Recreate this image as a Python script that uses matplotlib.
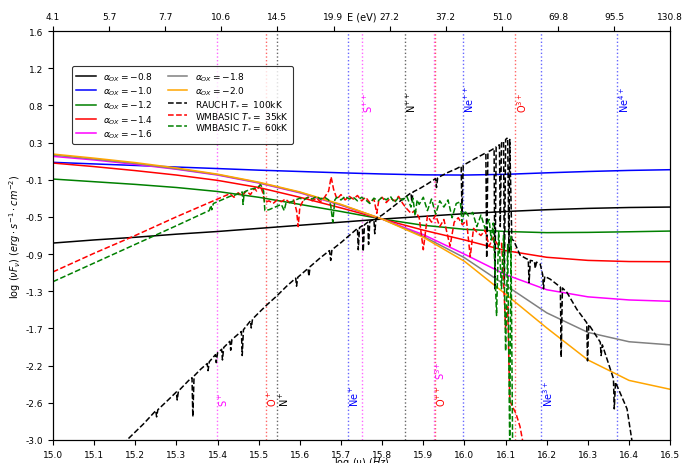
import numpy as np
import matplotlib
matplotlib.use('Agg')
import matplotlib.pyplot as plt

# x grid of the alpha_ox continua (log nu)
alpha_lognu = [15.0, 15.1, 15.2, 15.3, 15.4, 15.5, 15.6, 15.7, 15.8, 15.9,
               16.0, 16.1, 16.2, 16.3, 16.4, 16.5]
alpha_m08 = [-0.785, -0.75, -0.72, -0.685, -0.655, -0.62, -0.585, -0.55, -0.515, -0.485,
             -0.455, -0.43, -0.41, -0.395, -0.385, -0.38]
alpha_m10 = [0.123, 0.105, 0.088, 0.07, 0.053, 0.035, 0.02, 0.005, -0.008, -0.018,
             -0.02, -0.012, 0.005, 0.02, 0.032, 0.04]
alpha_m12 = [-0.065, -0.095, -0.125, -0.16, -0.205, -0.27, -0.35, -0.43, -0.515, -0.585,
             -0.63, -0.655, -0.668, -0.665, -0.658, -0.65]
alpha_m14 = [0.115, 0.075, 0.03, -0.02, -0.08, -0.16, -0.27, -0.39, -0.515, -0.64,
             -0.75, -0.87, -0.945, -0.98, -0.993, -0.995]
alpha_m16 = [0.19, 0.15, 0.10, 0.045, -0.02, -0.11, -0.22, -0.36, -0.515, -0.69,
             -0.91, -1.14, -1.31, -1.39, -1.425, -1.44]
alpha_m18 = [0.205, 0.16, 0.11, 0.05, -0.015, -0.105, -0.215, -0.355, -0.515, -0.71,
             -0.95, -1.26, -1.57, -1.79, -1.895, -1.93]
alpha_m20 = [0.216, 0.17, 0.12, 0.06, -0.01, -0.10, -0.21, -0.35, -0.515, -0.72,
             -0.99, -1.36, -1.74, -2.10, -2.33, -2.43]
alpha_values = ['-0.8', '-1.0', '-1.2', '-1.4', '-1.6', '-1.8', '-2.0']
alpha_colors = ['black', 'blue', 'green', 'red', 'magenta', 'gray', 'orange']

# RAUCH 100kK
rauch_lognu = [15.13, 15.18, 15.22, 15.25, 15.252, 15.255, 15.28, 15.30, 15.302, 15.305,
               15.33, 15.338, 15.340, 15.343, 15.36, 15.375, 15.377, 15.380, 15.395, 15.397,
               15.400, 15.410, 15.412, 15.415, 15.43, 15.432, 15.435, 15.45, 15.458, 15.460,
               15.463, 15.48, 15.482, 15.485, 15.50, 15.52, 15.544, 15.568, 15.59, 15.592,
               15.595, 15.62, 15.622, 15.625, 15.65, 15.672, 15.675, 15.678, 15.70, 15.72,
               15.74, 15.742, 15.745, 15.752, 15.754, 15.757, 15.765, 15.767, 15.770, 15.78,
               15.782, 15.785, 15.80, 15.82, 15.85, 15.87, 15.872, 15.875, 15.892, 15.91,
               15.93, 15.932, 15.935, 15.96, 15.98, 15.992, 15.994, 15.997, 16.02, 16.04,
               16.052, 16.054, 16.057, 16.065, 16.072, 16.074, 16.077, 16.085, 16.087, 16.090,
               16.095, 16.097, 16.100, 16.105, 16.108, 16.110, 16.115, 16.12, 16.135, 16.15,
               16.155, 16.157, 16.160, 16.17, 16.172, 16.175, 16.184, 16.19, 16.192, 16.195,
               16.208, 16.233, 16.235, 16.238, 16.249, 16.273, 16.297, 16.299, 16.302, 16.33,
               16.332, 16.335, 16.362, 16.364, 16.367, 16.395, 16.41]
rauch_flux = [-3.25, -3.00, -2.82, -2.67, -2.74, -2.66, -2.55, -2.46, -2.55, -2.45,
              -2.33, -2.30, -2.74, -2.28, -2.20, -2.14, -2.22, -2.12, -2.04, -2.13,
              -2.02, -1.98, -2.10, -1.96, -1.89, -1.99, -1.87, -1.81, -1.78, -2.05,
              -1.76, -1.66, -1.74, -1.64, -1.57, -1.48, -1.38, -1.27, -1.18, -1.27,
              -1.17, -1.07, -1.16, -1.05, -0.95, -0.87, -0.98, -0.86, -0.78, -0.70,
              -0.62, -0.86, -0.61, -0.59, -0.88, -0.58, -0.55, -0.80, -0.54, -0.52,
              -0.68, -0.51, -0.47, -0.40, -0.29, -0.22, -0.32, -0.21, -0.17, -0.12,
              -0.06, -0.16, -0.05, 0.01, 0.05, 0.08, -0.45, 0.09, 0.15, 0.20,
              0.23, -0.95, 0.24, 0.26, 0.28, -1.30, 0.30, 0.32, -0.60, 0.34,
              0.36, -1.20, 0.38, 0.40, -0.90, 0.38, -0.74, -0.76, -0.92, -0.96,
              -0.97, -1.23, -0.98, -0.99, -1.07, -1.00, -1.02, -1.14, -1.30, -1.16,
              -1.19, -1.28, -2.07, -1.29, -1.34, -1.53, -1.68, -2.11, -1.70, -1.90,
              -2.05, -1.93, -2.31, -2.65, -2.35, -2.65, -3.10]

# WMBASIC 35kK
wm35_lognu = [15.00, 15.10, 15.20, 15.30, 15.36, 15.40, 15.42, 15.43, 15.44, 15.45,
              15.46, 15.47, 15.48, 15.49, 15.495, 15.503, 15.51, 15.515, 15.525, 15.535,
              15.545, 15.555, 15.565, 15.575, 15.585, 15.592, 15.596, 15.600, 15.61, 15.62,
              15.63, 15.64, 15.65, 15.66, 15.67, 15.676, 15.682, 15.69, 15.70, 15.71,
              15.72, 15.73, 15.74, 15.75, 15.76, 15.77, 15.78, 15.787, 15.792, 15.80,
              15.81, 15.82, 15.83, 15.84, 15.85, 15.86, 15.87, 15.88, 15.89, 15.90,
              15.91, 15.92, 15.93, 15.94, 15.95, 15.965, 15.975, 15.985, 15.995, 16.005,
              16.014, 16.022, 16.03, 16.04, 16.05, 16.06, 16.07, 16.08, 16.09, 16.095,
              16.100, 16.105, 16.110, 16.116, 16.125, 16.135, 16.145]
wm35_flux = [-1.11, -0.90, -0.70, -0.49, -0.37, -0.29, -0.25, -0.23, -0.27, -0.22,
             -0.25, -0.20, -0.24, -0.17, -0.20, -0.13, -0.22, -0.33, -0.31, -0.34,
             -0.30, -0.32, -0.29, -0.33, -0.30, -0.42, -0.60, -0.38, -0.29, -0.27,
             -0.31, -0.28, -0.32, -0.27, -0.20, -0.04, -0.18, -0.29, -0.24, -0.30,
             -0.26, -0.29, -0.25, -0.31, -0.27, -0.33, -0.29, -0.45, -0.30, -0.27,
             -0.33, -0.28, -0.31, -0.26, -0.34, -0.40, -0.45, -0.42, -0.50, -0.86,
             -0.48, -0.55, -0.47, -0.60, -0.52, -0.82, -0.55, -0.50, -0.58, -0.53,
             -0.94, -0.62, -0.66, -0.70, -0.64, -0.82, -0.72, -0.80, -0.78, -1.20,
             -1.75, -1.50, -2.55, -2.62, -2.70, -2.85, -3.10]

# WMBASIC 60kK
wm60_lognu = [15.00, 15.10, 15.20, 15.30, 15.37, 15.38, 15.384, 15.386, 15.39, 15.40,
              15.42, 15.43, 15.44, 15.45, 15.46, 15.462, 15.465, 15.48, 15.49, 15.50,
              15.505, 15.512, 15.515, 15.525, 15.535, 15.545, 15.555, 15.562, 15.566, 15.58,
              15.59, 15.60, 15.61, 15.62, 15.63, 15.64, 15.65, 15.66, 15.67, 15.675,
              15.68, 15.685, 15.69, 15.70, 15.71, 15.72, 15.73, 15.74, 15.75, 15.76,
              15.77, 15.78, 15.79, 15.80, 15.81, 15.82, 15.83, 15.84, 15.85, 15.86,
              15.87, 15.875, 15.88, 15.885, 15.89, 15.90, 15.91, 15.92, 15.93, 15.94,
              15.95, 15.96, 15.97, 15.98, 15.99, 15.994, 16.00, 16.01, 16.02, 16.03,
              16.04, 16.05, 16.06, 16.065, 16.07, 16.078, 16.083, 16.09, 16.095, 16.10,
              16.105, 16.110, 16.113, 16.117]
wm60_flux = [-1.22, -1.01, -0.80, -0.59, -0.44, -0.42, -0.36, -0.41, -0.34, -0.32,
             -0.28, -0.26, -0.25, -0.23, -0.21, -0.35, -0.21, -0.18, -0.17, -0.15,
             -0.13, -0.20, -0.42, -0.41, -0.39, -0.37, -0.35, -0.42, -0.34, -0.32,
             -0.30, -0.28, -0.30, -0.27, -0.29, -0.26, -0.29, -0.27, -0.30, -0.36,
             -0.55, -0.30, -0.27, -0.30, -0.26, -0.29, -0.27, -0.31, -0.27, -0.30,
             -0.34, -0.28, -0.31, -0.27, -0.30, -0.26, -0.33, -0.27, -0.30, -0.26,
             -0.38, -0.28, -0.48, -0.30, -0.35, -0.27, -0.42, -0.29, -0.46, -0.31,
             -0.38, -0.30, -0.50, -0.34, -0.32, -0.55, -0.42, -0.48, -0.44, -0.60,
             -0.47, -0.62, -0.52, -0.75, -0.56, -1.60, -0.66, -1.30, -0.70, -2.00,
             -0.80, -3.10, -0.70, -3.10]

# ionisation edges (eV)
ion_names = ['S$^+$', 'O$^+$', 'N$^+$', 'Ne$^+$', 'S$^{++}$', 'N$^{++}$', 'S$^{3+}$',
             'O$^{++}$', 'Ne$^{++}$', 'O$^{3+}$', 'Ne$^{3+}$', 'Ne$^{4+}$']
ion_energy = [10.36, 13.618, 14.53, 21.56, 23.34, 29.60, 34.79, 35.12, 40.96, 54.94, 63.45, 97.12]
ion_colors = ['magenta', 'red', 'black', 'blue', 'magenta', 'black', 'magenta', 'red',
              'blue', 'red', 'blue', 'blue']
ion_label_y = [-2.62, -2.62, -2.62, -2.62, 0.69, 0.69, -2.31, -2.62, 0.69, 0.69, -2.62, 0.69]

e_tick_labels = ['4.1', '5.7', '7.7', '10.6', '14.5', '19.9', '27.2', '37.2', '51.0',
                 '69.8', '95.5', '130.8']

h_ev = 4.135667e-15
fs = 6.5

fig = plt.figure(figsize=(6.96, 4.64), dpi=100)
ax = fig.add_axes([0.076, 0.0496, 0.963 - 0.076, 0.931 - 0.0496])

# edges
for name, e, c, ly in zip(ion_names, ion_energy, ion_colors, ion_label_y):
    xe = np.log10(e / h_ev)
    ax.axvline(xe, color=c, ls=':', lw=1.0, alpha=0.6, zorder=1)
    ax.text(xe, ly, name, color=c, rotation=90, ha='left', va='bottom', fontsize=fs + 0.5)

alpha_curves = [alpha_m08, alpha_m10, alpha_m12, alpha_m14, alpha_m16, alpha_m18, alpha_m20]
for a, yv, c in zip(alpha_values, alpha_curves, alpha_colors):
    ax.plot(alpha_lognu, yv, color=c, lw=1.1, label=r'$\alpha_{OX}=' + a + '$', zorder=2)

ax.plot(rauch_lognu, rauch_flux, color='black', ls='--', lw=1.1,
        label=r'RAUCH $T_{*}=$ 100kK', zorder=3)
ax.plot(wm35_lognu, wm35_flux, color='red', ls='--', lw=1.1,
        label=r'WMBASIC $T_{*}=$ 35kK', zorder=3)
ax.plot(wm60_lognu, wm60_flux, color='green', ls='--', lw=1.1,
        label=r'WMBASIC $T_{*}=$ 60kK', zorder=3)

ax.set_xlim(15.0, 16.5)
ax.set_ylim(-3.0, 1.6)
xt = np.arange(15.0, 16.51, 0.1)
ax.set_xticks(xt)
ax.set_xticklabels(['%.1f' % v for v in xt], fontsize=fs)
yt = np.linspace(-3.0, 1.6, 12)
ax.set_yticks(yt)
ax.set_yticklabels(['%.1f' % v for v in yt], fontsize=fs)
ax.set_xlabel(r'$\log\,(\nu)\ (Hz)$', fontsize=fs + 0.5, labelpad=-3)
ax.set_ylabel(r'$\log\,(\nu F_{\nu})\ (erg \cdot s^{-1} \cdot cm^{-2})$', fontsize=fs + 0.5, labelpad=2)

handles, labels = ax.get_legend_handles_labels()
leg = ax.legend(handles, labels, ncol=2, loc='upper left', bbox_to_anchor=(0.024, 0.925),
                fontsize=fs, frameon=True, fancybox=True, edgecolor='black',
                labelspacing=0.2, columnspacing=1.6, handlelength=2.2, borderpad=0.45)
leg.get_frame().set_linewidth(0.8)

ax2 = ax.twiny()
ax2.set_xlim(15.0, 16.5)
ax2.set_xticks(np.linspace(15.0, 16.5, 12))
ax2.set_xticklabels(e_tick_labels, fontsize=fs)
ax2.set_xlabel('E (eV)', fontsize=fs + 0.5, labelpad=-5)

fig.savefig('out.png', dpi=100)
